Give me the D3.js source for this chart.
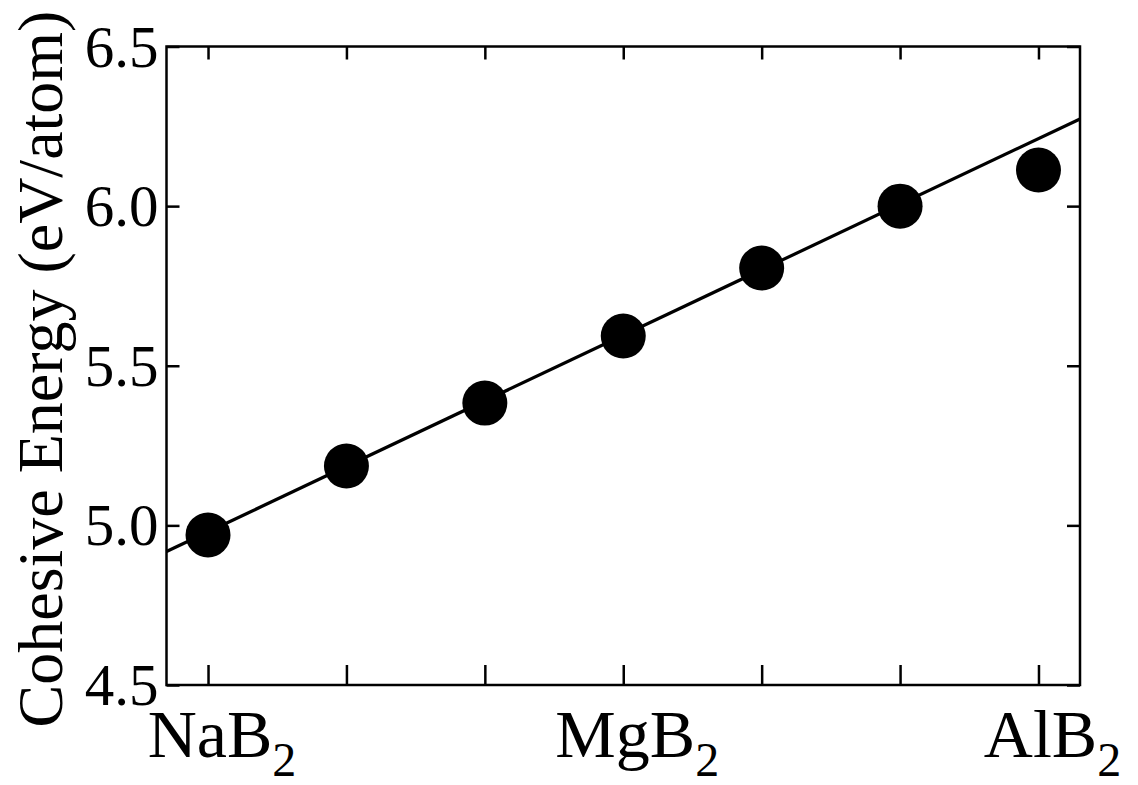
<!DOCTYPE html>
<html>
<head>
<meta charset="utf-8">
<script src="https://cdn.jsdelivr.net/npm/d3@7"></script>
<style>
  html, body { margin: 0; padding: 0; background: #fff; }
  svg { display: block; }
</style>
</head>
<body>
<svg id="chart" width="1138" height="785"></svg>
<script>
// ---- data ----
const compounds = ["NaB2", "", "", "MgB2", "", "", "AlB2"];
const labelMain = ["NaB", "", "", "MgB", "", "", "AlB"];
const labelSub = ["2", "", "", "2", "", "", "2"];
const cohesiveEnergy = [4.97, 5.186, 5.383, 5.593, 5.806, 6.0, 6.113];
const fitX = [-0.3, 6.3];
const fitY = [4.918, 6.273];
const yTicks = [4.5, 5.0, 5.5, 6.0, 6.5];
const yTitle = "Cohesive Energy (eV/atom)";

// ---- layout ----
const FONT = '"Liberation Serif", "Tinos", "Nimbus Roman", "FreeSerif", "DejaVu Serif", serif';
const svg = d3.select("#chart");
const L = 166.5, R = 1080, T = 46.5, B = 685;

const x = d3.scaleLinear().domain([-0.3, 6.3]).range([L, R]);
const y = d3.scaleLinear().domain([4.5, 6.5]).range([B, T]);
const idx = d3.range(compounds.length);

function styleAxis(g) {
  g.select(".domain").remove();
  g.selectAll(".tick line").attr("stroke", "#000").attr("stroke-width", 2.5);
  g.selectAll(".tick text").remove();
}

// bottom ticks (inward)
svg.append("g").attr("transform", `translate(0,${B})`)
  .call(d3.axisBottom(x).tickValues(idx).tickSize(-20).tickFormat(""))
  .call(styleAxis);
// top ticks (inward)
svg.append("g").attr("transform", `translate(0,${T})`)
  .call(d3.axisTop(x).tickValues(idx).tickSize(-13).tickFormat(""))
  .call(styleAxis);
// left ticks
svg.append("g").attr("transform", `translate(${L},0)`)
  .call(d3.axisLeft(y).tickValues(yTicks).tickSize(-13).tickFormat(""))
  .call(styleAxis);
// right ticks
svg.append("g").attr("transform", `translate(${R},0)`)
  .call(d3.axisRight(y).tickValues(yTicks).tickSize(-13).tickFormat(""))
  .call(styleAxis);

// frame
svg.append("rect")
  .attr("x", L).attr("y", T).attr("width", R - L).attr("height", B - T)
  .attr("fill", "none").attr("stroke", "#000").attr("stroke-width", 2.5);

// y tick labels
svg.append("g").selectAll("text").data(yTicks).join("text")
  .style("font-family", FONT)
  .style("font-size", "59px")
  .attr("x", L - 8).attr("y", d => y(d))
  .attr("dy", "0.34em")
  .attr("text-anchor", "end")
  .text(d => d.toFixed(1));

// x tick labels with subscripts
const xl = svg.append("g");
idx.forEach(i => {
  if (!labelMain[i]) return;
  const t = xl.append("text").style("font-family", FONT).style("font-size", "68px").attr("y", 757);
  const m = t.append("tspan").text(labelMain[i]);
  t.append("tspan").style("font-size", "48px").attr("dy", 19).text(labelSub[i]);
  const w = m.node().getComputedTextLength();
  t.attr("x", x(i) - w / 2 + 2);
});

// y title
svg.append("text")
  .style("font-family", FONT)
  .style("font-size", "64px")
  .attr("transform", "translate(62,369) rotate(-90)")
  .attr("text-anchor", "middle")
  .text(yTitle);

// fit line
svg.append("path")
  .datum(d3.zip(fitX, fitY))
  .attr("fill", "none").attr("stroke", "#000").attr("stroke-width", 3.2)
  .attr("d", d3.line().x(d => x(d[0])).y(d => y(d[1])));

// points
svg.append("g").selectAll("circle").data(cohesiveEnergy).join("circle")
  .attr("cx", (d, i) => x(i)).attr("cy", d => y(d))
  .attr("r", 22.5).attr("fill", "#000");
</script>
</body>
</html>
